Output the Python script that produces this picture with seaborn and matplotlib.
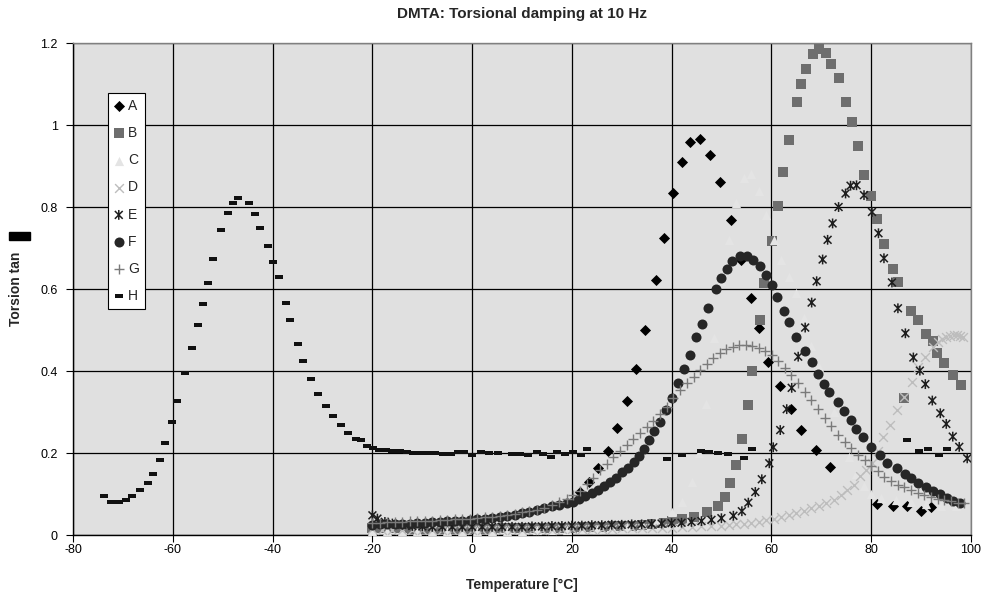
import pandas as pd
import matplotlib
matplotlib.use('Agg')
import matplotlib.pyplot as plt
from matplotlib.path import Path
from matplotlib.patches import Rectangle
from matplotlib.ticker import FuncFormatter
import seaborn as sns

# (temperature in C, torsion tan delta)
series_a = [(21.6, .106), (23.4, .130), (25.3, .163), (27.2, .206), (29.0, .260), (31.1, .328),
            (32.9, .406), (34.7, .500), (36.9, .623), (38.5, .725), (40.3, .833), (42.1, .911),
            (43.7, .959), (45.8, .965), (47.7, .926), (49.7, .862), (51.9, .768), (54.0, .672),
            (56.0, .578), (57.5, .504), (59.4, .423), (61.8, .364), (63.9, .308), (65.9, .255),
            (68.9, .207), (71.8, .165), (81.2, .076), (84.5, .070), (87.3, .071), (90.0, .059),
            (92.0, .069)]

series_b = [(-20, .018), (-18, .017), (-16, .016), (-14, .016), (-12, .015), (-10, .015), (-8, .015),
            (-6, .015), (-4, .015), (-2, .015), (0, .015), (2, .015), (4, .015), (6, .016), (8, .016),
            (10, .016), (12, .016), (14, .017), (16, .017), (18, .018), (20, .018), (22, .019),
            (24, .019), (26, .020), (28, .021), (30, .022), (32, .023), (34, .025), (36, .027),
            (38, .030), (40, .034), (42, .038), (44.4, .044), (47.1, .055), (49.4, .070), (50.7, .093),
            (51.7, .126), (52.9, .172), (54.2, .234), (55.3, .316), (56.2, .400), (57.8, .524),
            (58.6, .614), (60.2, .718), (61.4, .803), (62.3, .886), (63.6, .963), (65.2, 1.055),
            (66.0, 1.099), (67.0, 1.136), (68.3, 1.173), (69.6, 1.185), (70.9, 1.176), (72.0, 1.149),
            (73.6, 1.114), (74.9, 1.055), (76.2, 1.008), (77.3, .949), (78.6, .878), (80.0, .828),
            (81.2, .771), (82.7, .710), (84.4, .650), (85.5, .616), (86.6, .335), (88.0, .547),
            (89.5, .524), (91.0, .490), (92.4, .474), (93.2, .443), (94.7, .419), (96.4, .390),
            (98.0, .366)]

series_c = [(-20, .010), (-17, .010), (-14, .010), (-11, .010), (-8, .010), (-5, .010), (-2, .010),
            (1, .010), (4, .011), (7, .011), (10, .011), (13, .012), (16, .012), (19, .013), (22, .014),
            (25, .015), (28, .017), (31, .020), (34, .026), (37, .036), (40, .055), (42, .080),
            (44, .130), (45.5, .200), (47, .320), (48.5, .480), (50, .620), (51.5, .720), (53, .810),
            (54.5, .870), (56, .880), (57.5, .840), (59, .780), (60.5, .720), (62, .670), (63.5, .630),
            (65, .590), (66.5, .530), (68, .460), (69.5, .410), (71, .360), (72.5, .300), (74, .240),
            (75.5, .190), (77, .150), (78.5, .120), (80, .100), (82, .090), (85, .085), (88, .080),
            (91, .076), (94, .072), (97, .070)]

series_d = [(-20, .014), (-18, .013), (-16, .012), (-14, .012), (-12, .012), (-10, .012), (-8, .012),
            (-6, .012), (-4, .012), (-2, .012), (0, .012), (2, .012), (4, .012), (6, .012), (8, .012),
            (10, .013), (12, .013), (14, .013), (16, .013), (18, .014), (20, .014), (22, .014),
            (24, .015), (26, .015), (28, .015), (30, .016), (32, .016), (34, .017), (36, .017),
            (38, .018), (40, .018), (42, .019), (44, .020), (46, .021), (48, .022), (50, .023),
            (51.5, .024), (53, .026), (54.5, .028), (56, .030), (57.5, .032), (59, .036), (60.5, .040),
            (62, .045), (63.5, .049), (65, .053), (66.5, .058), (68, .065), (69.5, .071), (71, .078),
            (72.5, .086), (74, .097), (75.2, .110), (76.5, .122), (77.8, .144), (79, .158), (80.2, .175),
            (81.4, .205), (82.5, .240), (83.8, .268), (85.2, .305), (86.6, .337), (88.2, .374),
            (89.5, .410), (90.9, .435), (92.5, .459), (93.4, .470), (94.2, .478), (95.1, .482),
            (95.9, .485), (96.6, .487), (97.2, .488), (97.9, .486), (98.5, .484)]

series_e = [(-20, .048), (-19, .040), (-17.5, .032), (-16, .028), (-14, .025), (-12, .022), (-10, .021),
            (-8, .020), (-6, .020), (-4, .020), (-2, .020), (0, .020), (2, .020), (4, .020), (6, .020),
            (8, .020), (10, .020), (12, .021), (14, .021), (16, .022), (18, .022), (20, .023), (22, .023),
            (24, .024), (26, .024), (28, .025), (30, .025), (32, .026), (34, .026), (36, .027),
            (38, .028), (40, .029), (42, .030), (44, .032), (46, .034), (48, .037), (50, .041),
            (52.4, .047), (54.1, .058), (55.4, .079), (56.8, .105), (58.1, .136), (59.6, .175),
            (60.4, .214), (61.8, .256), (63.1, .307), (64.1, .359), (65.4, .435), (66.8, .506),
            (68.1, .567), (69.1, .619), (70.3, .672), (71.3, .720), (72.3, .760), (73.5, .800),
            (74.9, .833), (75.9, .852), (77.1, .853), (78.6, .829), (80.2, .788), (81.5, .736),
            (82.6, .675), (84.2, .616), (85.4, .553), (86.9, .492), (88.5, .433), (89.8, .401),
            (90.9, .368), (92.3, .328), (93.9, .297), (95.1, .271), (96.4, .240), (97.7, .215),
            (99.3, .187)]

series_f = [(-20, .025), (-18.5, .026), (-17, .026), (-15.5, .027), (-14, .027), (-12.5, .028),
            (-11, .029), (-9.5, .030), (-8, .031), (-6.5, .032), (-5, .033), (-3.5, .034), (-2, .035),
            (-0.5, .037), (1, .038), (2.5, .040), (4, .042), (5.5, .044), (7, .047), (8.5, .050),
            (10, .053), (11.5, .057), (13, .061), (14.5, .065), (16, .070), (17.5, .074), (19, .077),
            (20.3, .080), (21.5, .087), (22.7, .094), (24, .102), (25.2, .110), (26.4, .119),
            (27.6, .129), (28.8, .140), (30, .153), (31.2, .164), (32.4, .178), (33.5, .193),
            (34.5, .210), (35.5, .232), (36.5, .254), (37.6, .276), (38.9, .305), (40, .333),
            (41.3, .372), (42.4, .406), (43.6, .438), (45, .482), (46.1, .515), (47.3, .554),
            (48.9, .600), (50, .628), (51.1, .650), (52.1, .669), (53.7, .680), (55.1, .680),
            (56.3, .672), (57.8, .656), (58.9, .634), (60.2, .609), (61.2, .581), (62.6, .547),
            (63.6, .519), (65, .484), (66.8, .450), (68.1, .421), (69.3, .393), (70.5, .368),
            (71.5, .350), (73.3, .325), (74.5, .302), (76, .280), (77, .259), (78.3, .240),
            (80.1, .215), (81.8, .195), (83.3, .175), (85.2, .163), (86.8, .149), (88, .138),
            (89.5, .128), (91, .116), (92.4, .108), (93.9, .099), (95.2, .090), (96.5, .083),
            (97.9, .079)]

series_g = [(-20, .030), (-18.5, .030), (-17, .031), (-15.5, .031), (-14, .032), (-12.5, .033),
            (-11, .033), (-9.5, .034), (-8, .035), (-6.5, .036), (-5, .037), (-3.5, .038), (-2, .039),
            (-0.5, .040), (1, .041), (2.5, .043), (4, .045), (5.5, .047), (7, .049), (8.5, .052),
            (10, .055), (11.5, .058), (13, .062), (14.5, .067), (16, .073), (17.5, .080), (19, .088),
            (20.3, .097), (21.6, .108), (23, .124), (24.3, .140), (25.7, .158), (27, .174),
            (28.3, .190), (29.7, .205), (31, .220), (32.3, .234), (33.7, .248), (35, .263),
            (36.3, .279), (37.6, .296), (39, .313), (40.3, .333), (41.7, .353), (43, .370),
            (44.4, .386), (45.7, .402), (47.1, .418), (48.4, .432), (49.7, .444), (51, .453),
            (52.3, .459), (53.6, .463), (54.9, .464), (56.2, .462), (57.5, .457), (58.8, .448),
            (60.1, .438), (61.4, .424), (62.7, .408), (64, .390), (65.4, .370), (66.7, .350),
            (68, .330), (69.4, .308), (70.7, .286), (72, .265), (73.4, .245), (74.7, .228),
            (76, .212), (77.4, .196), (78.7, .182), (80, .168), (81.4, .155), (82.7, .142),
            (84, .132), (85.4, .123), (86.7, .116), (88, .109), (89.4, .103), (90.7, .098),
            (92, .093), (93.4, .089), (94.7, .085), (96, .082), (97.4, .079), (98.7, .077)]

series_h = [(-73.8, .095), (-72.4, .081), (-70.9, .081), (-69.4, .085), (-68.2, .095), (-66.6, .110),
            (-65.0, .128), (-64.0, .150), (-62.7, .184), (-61.7, .225), (-60.3, .275), (-59.1, .328),
            (-57.5, .396), (-56.1, .456), (-55.0, .512), (-54.0, .563), (-53.0, .615), (-51.9, .673),
            (-50.4, .744), (-49.0, .785), (-48.0, .810), (-46.9, .823), (-44.8, .810), (-43.5, .782),
            (-42.5, .748), (-40.9, .704), (-39.9, .667), (-38.8, .630), (-37.3, .565), (-36.5, .525),
            (-34.9, .465), (-33.9, .425), (-32.3, .380), (-31.0, .343), (-29.4, .315), (-28.0, .290),
            (-26.4, .268), (-24.9, .250), (-23.3, .233), (-22.3, .231), (-21.0, .218), (-19.9, .212),
            (-18.6, .207), (-17.3, .207), (-16.1, .205), (-14.4, .205), (-13.1, .203), (-11.8, .200),
            (-10.5, .200), (-8.9, .200), (-7.4, .200), (-5.8, .197), (-4.2, .197), (-2.9, .203),
            (-1.6, .203), (0, .195), (1.8, .203), (3.4, .200), (5.2, .200), (7.9, .197), (9.6, .197),
            (11.2, .195), (13.1, .203), (14.2, .197), (15.8, .190), (17.1, .203), (18.6, .197),
            (20.2, .203), (21.8, .195), (23.0, .209), (39.0, .185), (42.0, .194), (46.0, .206),
            (47.5, .203), (49.4, .200), (51.3, .197), (54.6, .189), (56.2, .209), (87.3, .232),
            (89.7, .206), (91.5, .210), (93.7, .196), (95.2, .210)]

labels = ['A', 'B', 'C', 'D', 'E', 'F', 'G', 'H']
all_series = [series_a, series_b, series_c, series_d, series_e, series_f, series_g, series_h]

# six-armed asterisk and flat dash like the old spreadsheet markers
star = Path([(0, -1), (0, 1), (-0.8, -0.8), (0.8, 0.8), (-0.8, 0.8), (0.8, -0.8)],
            [Path.MOVETO, Path.LINETO] * 3)
dash = Path([(-1, -0.4), (1, -0.4), (1, 0.4), (-1, 0.4), (-1, -0.4)],
            [Path.MOVETO, Path.LINETO, Path.LINETO, Path.LINETO, Path.CLOSEPOLY])

styles = {
    'A': dict(marker='D', s=32, color='black', edgecolor='black', linewidth=0),
    'B': dict(marker='s', s=44, color='#6e6e6e', edgecolor='#6e6e6e', linewidth=0),
    'C': dict(marker='^', s=44, color='#e4e4e4', edgecolor='#e4e4e4', linewidth=0),
    'D': dict(marker='x', s=40, color='#bdbdbd', linewidth=1.0),
    'E': dict(marker=star, s=50, color='#1e1e1e', facecolor='none', edgecolor='#1e1e1e', linewidth=1.1),
    'F': dict(marker='o', s=52, color='#262626', edgecolor='#262626', linewidth=0),
    'G': dict(marker='+', s=52, color='#7a7a7a', linewidth=1.0),
    'H': dict(marker=dash, s=32, color='#111111', edgecolor='#111111', linewidth=0),
}

sns.set_theme(style='white')
plt.rcParams['font.family'] = ['Liberation Sans', 'DejaVu Sans']
plt.rcParams['axes.unicode_minus'] = False

fig = plt.figure(figsize=(9.89, 6.0), dpi=100)
ax = fig.add_axes([0.0741, 0.1083, 0.9074, 0.8200])
ax.set_facecolor('#e0e0e0')

for i, (lab, pts) in enumerate(zip(labels, all_series)):
    df = pd.DataFrame(pts, columns=['temp', 'tan'])
    sns.scatterplot(data=df, x='temp', y='tan', ax=ax, label=lab, zorder=3 + i, **styles[lab])

ax.set_xlim(-80, 100)
ax.set_ylim(0, 1.2)
ax.set_xticks(range(-80, 101, 20))
ax.set_yticks([0, 0.2, 0.4, 0.6, 0.8, 1.0, 1.2])
ax.yaxis.set_major_formatter(FuncFormatter(lambda v, p: f'{v:g}'))
ax.grid(True, color='black', linewidth=0.9)
ax.set_axisbelow(True)
ax.tick_params(bottom=True, left=True, direction='out', length=4.8, width=0.8,
               color='black', labelsize=9, labelcolor='black')
ax.tick_params(axis='x', pad=1.5)
ax.tick_params(axis='y', pad=6.5)
for side in ['top', 'right']:
    ax.spines[side].set_color('#808080')
for side in ['left', 'bottom']:
    ax.spines[side].set_color('black')
for sp in ax.spines.values():
    sp.set_linewidth(1.0)

ax.set_title('DMTA: Torsional damping at 10 Hz', fontsize=11, fontweight='bold', pad=18)
ax.set_xlabel('Temperature [°C]', fontsize=10, fontweight='bold', va='center')
ax.xaxis.set_label_coords(0.5, -0.1016)
ax.set_ylabel('Torsion tan', fontsize=10, fontweight='bold', va='center')
ax.yaxis.set_label_coords(-0.0638, 0.5)
# the delta glyph came out as a black block in the original
fig.patches.append(Rectangle((9 / 989, 1 - 240 / 600), 21 / 989, 8 / 600,
                             transform=fig.transFigure, color='black'))

leg = ax.legend(loc='upper left', bbox_to_anchor=(0.0387, 0.898), borderaxespad=0,
                fontsize=10, frameon=True, fancybox=False, framealpha=1,
                handlelength=0.75, handletextpad=0.3, labelspacing=0.95, borderpad=0.4)
leg.get_frame().set_edgecolor('black')
leg.get_frame().set_linewidth(0.8)
leg.get_frame().set_facecolor('white')

fig.savefig('out.png', dpi=100)
